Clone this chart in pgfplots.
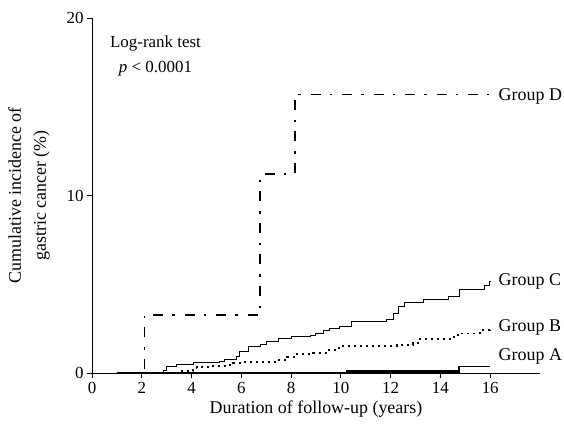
\documentclass[border=0pt]{standalone}
\usepackage{fontspec}
\setmainfont{Liberation Serif}
\usepackage{pgfplots}
\pgfplotsset{compat=1.18}
\begin{document}
\begin{tikzpicture}[x=1bp,y=1bp]
\useasboundingbox (0,0) rectangle (564,423);
\begin{axis}[
  at={(92bp,50bp)}, anchor=origin,
  scale only axis, width=448bp, height=355bp,
  xmin=0, xmax=18, ymin=0, ymax=20,
  axis x line=bottom, axis y line=left,
  axis line style={-, line width=1pt},
  xtick={0,2,...,16}, ytick={0,10,20},
  tick align=outside, major tick length=5bp,
  tick style={line width=0.8pt, black},
  /pgf/number format/assume math mode=true,
  xticklabel style={font=\fontsize{17}{19}\selectfont, yshift=-1bp},
  yticklabel style={font=\fontsize{17}{19}\selectfont},
  xlabel={Duration of follow-up (years)},
  xlabel style={font=\fontsize{18}{21}\selectfont, yshift=0bp},
  ylabel={Cumulative incidence of\\gastric cancer (\%)},
  ylabel style={font=\fontsize{18}{25}\selectfont, align=center, yshift=10bp},
  clip=false,
]
% Group D
\addplot[const plot, black, line width=1.5pt, dash pattern=on 10bp off 9bp on 2.5bp off 10bp]
  coordinates {(1,0) (2.1,3.27) (6.75,11.2) (8.15,15.7) (15.95,15.7)};
% Group C
\addplot[const plot, black, line width=0.9pt]
  coordinates {(1,0) (2.86,0.17) (3.0,0.37) (3.4,0.5) (4.07,0.58) (5.14,0.64) (5.34,0.77)
  (5.81,0.92) (5.94,1.2) (6.28,1.48) (6.75,1.63) (7.02,1.8) (7.48,1.95) (8.02,2.05)
  (8.76,2.14) (8.96,2.23) (9.29,2.38) (9.56,2.52) (9.96,2.61) (10.43,2.89) (11.83,2.99)
  (12.1,3.36) (12.3,3.74) (12.57,3.96) (13.3,4.15) (14.31,4.3) (14.78,4.71) (15.78,4.96)
  (15.98,5.14) (16.0,5.14)};
% Group B
\addplot[const plot, black, line width=1.8pt, dash pattern=on 2bp off 4bp]
  coordinates {(1,0) (3.53,0.1) (4.07,0.2) (4.2,0.32) (4.87,0.39) (5.41,0.45) (5.68,0.55)
  (6.08,0.64) (7.42,0.73) (7.82,0.92) (8.15,1.07) (8.89,1.14) (9.43,1.3) (9.9,1.39)
  (10.09,1.52) (12.24,1.58) (12.9,1.67) (13.17,1.9) (14.38,2.05) (14.71,2.23) (15.58,2.42)
  (15.98,2.57) (16,2.57)};
% Group A
\addplot[const plot, black, line width=1.3pt]
  coordinates {(1,0) (14.74,0.36) (16,0.36)};
\addplot[black, line width=2.8pt]
  coordinates {(10.2,0.08) (14.7,0.08)};
\node[anchor=west, font=\fontsize{18}{21}\selectfont] at (axis cs:16.2,15.6) {Group D};
\node[anchor=west, font=\fontsize{18}{21}\selectfont] at (axis cs:16.2,5.15) {Group C};
\node[anchor=west, font=\fontsize{18}{21}\selectfont] at (axis cs:16.2,2.55) {Group B};
\node[anchor=west, font=\fontsize{18}{21}\selectfont] at (axis cs:16.2,0.95) {Group A};
\node[font=\fontsize{17}{20}\selectfont] at (axis cs:2.55,18.55) {Log-rank test};
\node[font=\fontsize{17}{20}\selectfont] at (axis cs:2.55,17.15) {\textit{p} < 0.0001};
\end{axis}
\end{tikzpicture}
\end{document}
